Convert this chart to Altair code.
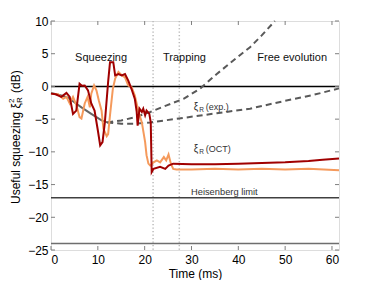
import altair as alt
import pandas as pd

# ---- data ----
dark_t = [0, 1, 2.2, 3.3, 4.0, 4.7, 5.4, 6.1, 6.6, 7.2, 7.9, 8.6, 9.3, 10.0, 10.5, 11.0, 11.5,
          12.2, 12.6, 13.3, 13.7, 14.4, 15.1, 15.8, 16.5, 17.2, 17.9, 18.3, 18.5, 18.9, 19.4,
          19.7, 20.1, 20.4, 21.0, 21.3, 21.5, 21.9, 23.3, 24.4, 25.1, 26.1, 30, 35, 40, 45,
          50, 55, 58, 61.5]
dark_db = [-1.1, -1.2, -1.6, -1.0, -1.6, -4.2, -3.7, 0.4, 0.1, 0.15, -0.6, -2.6, -3.7, -6.7,
           -9.0, -8.5, -5.5, 0.7, 3.7, 3.7, 1.7, 1.9, 1.7, 1.9, 0.9, -0.4, -1.9, -3.9, -6.0,
           -3.4, -3.9, -3.4, -4.4, -3.7, -4.2, -5.5, -13.1, -12.6, -12.3, -12.6, -12.1, -11.8,
           -11.9, -11.9, -11.8, -11.7, -11.6, -11.4, -11.2, -11.0]

light_t = [0, 1.5, 2.6, 3.3, 4.0, 4.7, 5.4, 6.1, 6.5, 7.2, 7.8, 8.3, 8.6, 9.2, 9.7, 10.2, 10.8,
           11.2, 11.9, 12.2, 12.6, 13.2, 13.7, 14.4, 15.1, 15.8, 16.5, 17.2, 17.9, 18.7, 19.4,
           20.1, 20.4, 20.8, 21.2, 21.9, 22.6, 23.3, 24.1, 24.6, 25.1, 25.6, 26.1, 26.8, 30,
           35, 40, 45, 50, 55, 61.5]
light_db = [-1.1, -1.2, -1.9, -1.6, -2.6, -1.6, -2.8, -4.7, -4.9, -2.6, -1.6, -3.2, -1.1, 0.15,
            -0.6, -2.1, -3.7, -6.5, -7.6, -7.3, -4.4, -0.4, 1.2, 2.2, 1.7, 1.4, 0.15, -0.1,
            -1.4, -3.9, -5.5, -8.5, -10.5, -11.8, -12.1, -11.6, -11.3, -11.6, -10.8, -11.3,
            -10.4, -11.8, -12.6, -12.7, -12.7, -12.6, -12.7, -12.6, -12.7, -12.6, -12.8]

theory_t = [0, 2.2, 3.6, 6.5, 8.6, 10.8, 12]
theory_db = [-1.0, -1.4, -1.7, -3.2, -4.2, -5.2, -5.5]

exp_up_t = [12, 15, 18, 21.2, 24.7, 28.3, 31.8, 35.4, 39, 42.5, 45, 47.8]
exp_up_db = [-5.5, -5.2, -4.7, -3.9, -2.9, -1.9, -0.35, 1.9, 4.0, 6.0, 7.8, 10.0]

exp_low_t = [12, 15, 18, 21.2, 28.3, 35.4, 42.5, 50, 56, 61.5]
exp_low_db = [-5.5, -5.7, -5.7, -5.5, -4.8, -4.1, -3.4, -2.2, -1.3, -0.3]

hline_vals = [0, -17, -24]
hline_cols = ["#000000", "#404040", "#6e6e6e"]
vline_vals = [21.8, 27.4]

x_ticks = [0, 10, 20, 30, 40, 50, 60]
y_ticks = [10, 5, 0, -5, -10, -15, -20, -25]

phase_labels = ["Squeezing", "Trapping", "Free evolution"]
phase_t = [10.7, 28.5, 51.5]
phase_v = [4.4, 4.4, 4.4]

W, H = 288, 229
FONT = "Liberation Sans"

xs = alt.Scale(domain=[0, 61.5], nice=False, zero=False)
ys = alt.Scale(domain=[-25, 10], nice=False, zero=False)
X = alt.X("t:Q", scale=xs, axis=alt.Axis(values=x_ticks, title="Time (ms)", ticks=False,
                                          domain=False, grid=False, labelPadding=4,
                                          titlePadding=3, labelFontSize=12, titleFontSize=12,
                                          titleFontWeight="normal", labelColor="#000",
                                          titleColor="#000", labelFont=FONT, titleFont=FONT))
Y = alt.Y("v:Q", scale=ys, axis=alt.Axis(values=y_ticks, title=None, ticks=False, domain=False,
                                          grid=False, labelPadding=3, labelFontSize=12,
                                          labelColor="#000", labelFont=FONT))


def df(t, v):
    return pd.DataFrame({"t": t, "v": v})


layers = []

# dotted vertical lines
layers.append(alt.Chart(pd.DataFrame({"t": vline_vals})).mark_rule(
    color="#bbbbbb", strokeDash=[1.2, 2.3], strokeWidth=1.5).encode(x=X))

# horizontal reference lines
layers.append(alt.Chart(pd.DataFrame({"v": hline_vals, "c": hline_cols})).mark_rule(
    strokeWidth=1.5).encode(y=Y, color=alt.Color("c:N", scale=None)))

# experimental (dashed) curves
for tt, vv in [(exp_up_t, exp_up_db), (exp_low_t, exp_low_db)]:
    layers.append(alt.Chart(df(tt, vv)).mark_line(
        color="#595959", strokeWidth=2, strokeDash=[6, 4]).encode(x=X, y=Y))

# solid gray line
layers.append(alt.Chart(df(theory_t, theory_db)).mark_line(
    color="#666666", strokeWidth=2).encode(x=X, y=Y))

# data curves
layers.append(alt.Chart(df(light_t, light_db)).mark_line(
    color="#f59a5c", strokeWidth=2).encode(x=X, y=Y))
layers.append(alt.Chart(df(dark_t, dark_db)).mark_line(
    color="#a00000", strokeWidth=2).encode(x=X, y=Y))

# inward ticks
tx = pd.DataFrame({"t": x_ticks})
ty = pd.DataFrame({"v": y_ticks})
tick_style = dict(color="#7f7f7f", strokeWidth=1)
layers.append(alt.Chart(tx).mark_rule(**tick_style).encode(
    x=X, y=alt.value(H), y2=alt.value(H - 4)))
layers.append(alt.Chart(tx).mark_rule(**tick_style).encode(
    x=X, y=alt.value(0), y2=alt.value(4)))
layers.append(alt.Chart(ty).mark_rule(**tick_style).encode(
    y=Y, x=alt.value(0), x2=alt.value(4)))
layers.append(alt.Chart(ty).mark_rule(**tick_style).encode(
    y=Y, x=alt.value(W), x2=alt.value(W - 4)))

# phase labels
layers.append(alt.Chart(pd.DataFrame({"t": phase_t, "v": phase_v, "s": phase_labels})).mark_text(
    font=FONT, fontSize=11, color="#111", align="center", baseline="middle").encode(
    x=X, y=Y, text="s:N"))


def annot(t, v, parts):
    out = []
    for txt, size, dx, dy in parts:
        out.append(alt.Chart(pd.DataFrame({"t": [t], "v": [v], "s": [txt]})).mark_text(
            font=FONT, fontSize=size, color="#333", align="left", baseline="middle",
            dx=dx, dy=dy).encode(x=X, y=Y, text="s:N"))
    return out


layers += annot(30.5, -3.2, [("ξ", 10, 0, 0), ("R", 6.5, 5.5, 3), ("(exp.)", 9, 12, 0)])
layers += annot(30.5, -9.5, [("ξ", 10, 0, 0), ("R", 6.5, 5.5, 3), ("(OCT)", 9, 12, 0)])
layers += annot(29.9, -16.1, [("Heisenberg limit", 9.3, 0, 0)])

# y-axis title built from rotated text pieces
ytitle_parts = [("Useful squeezing ξ", 12, 0, 0), ("2", 8, 101, -4), ("R", 8, 101, 4),
                ("(dB)", 12, 111, 0)]
for txt, size, dx, dy in ytitle_parts:
    layers.append(alt.Chart(pd.DataFrame({"s": [txt]})).mark_text(
        font=FONT, fontSize=size, color="#000", align="left", baseline="middle",
        angle=270, dx=dx, dy=dy).encode(x=alt.value(-35), y=alt.value(183), text="s:N"))

chart = alt.layer(*layers).properties(
    width=W, height=H, autosize="none",
    padding={"left": 43, "top": 13, "right": 20, "bottom": 30},
).configure_view(stroke="#7f7f7f", strokeWidth=1).configure(background="white")

chart.save("out.html", embed_options={"renderer": "svg", "actions": False})
